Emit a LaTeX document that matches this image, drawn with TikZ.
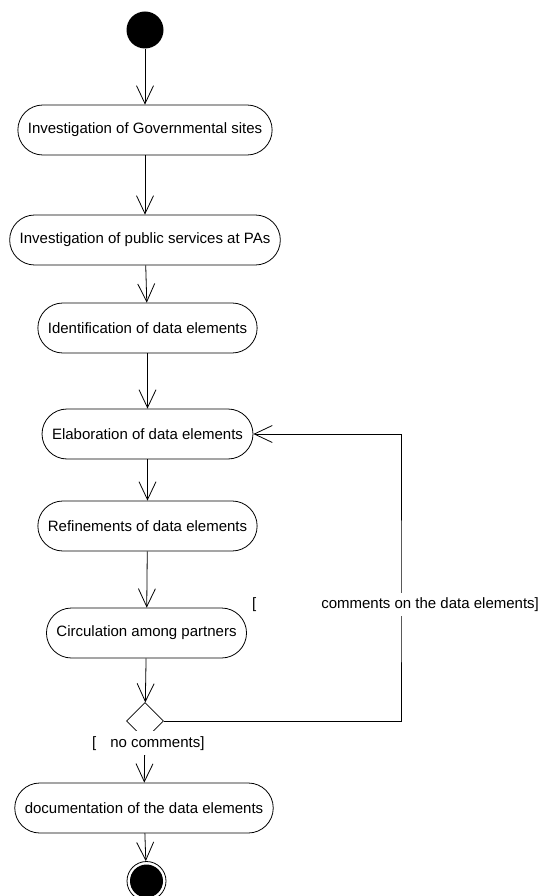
\documentclass[tikz,border=0pt]{standalone}
\usepackage{fontspec}
\setmainfont{Liberation Sans}
\usepackage{tikz}
\usetikzlibrary{shapes.geometric}
\usetikzlibrary{arrows.meta}
\tikzstyle{initial} = [circle, fill=black, minimum size=37pt, inner sep=0pt]
\tikzstyle{final} = [circle, draw=black, minimum size=39pt, inner sep=0pt, path picture={\fill[black] (path picture bounding box.center) circle (16.5pt);}]
\tikzstyle{activity} = [rectangle, rounded corners=25pt, minimum height=50pt, inner xsep=10pt, text centered, draw=black, fill=white]
\tikzstyle{decision} = [diamond, minimum width=37pt, minimum height=37pt, inner sep=0pt, draw=black, fill=white]
\tikzstyle{guard} = [fill=white, inner xsep=1pt, inner ysep=5pt]
\tikzstyle{arrow} = [->, >={Straight Barb[length=18pt,width=17pt]}]

\begin{document}
\begin{tikzpicture}[x=1pt, y=1pt, line width=0.8pt, node distance=100pt, font=\fontsize{15}{18}\selectfont]
    \useasboundingbox (0,0) rectangle (544,-896);
    \node (start) [initial] at (145,-30) {};
    \node (govsites) [activity, below of=start] {Investigation of Governmental sites};
    \node (pubserv) [activity, node distance=110pt, below of=govsites] {Investigation of public services at PAs};
    \node (ident) [activity, node distance=88pt, below of=pubserv, xshift=2.5pt] {Identification of data elements};
    \node (elab) [activity, node distance=106pt, below of=ident] {Elaboration of data elements};
    \node (refine) [activity, node distance=92pt, below of=elab] {Refinements of data elements};
    \node (circ) [activity, node distance=107pt, below of=refine, xshift=-1pt] {Circulation among partners};
    \node (check) [decision, node distance=88pt, below of=circ, xshift=-1.5pt] {};
    \node (docu) [activity, node distance=87pt, below of=check, xshift=-1pt] {documentation of the data elements};
    \node (stop) [final, node distance=73pt, below of=docu, xshift=2.5pt] {};
    \coordinate (back) at (401,-604.5);
    \draw [arrow] (start) -- (govsites);
    \draw [arrow] (govsites) -- (pubserv);
    \draw [arrow] (pubserv) -- (ident);
    \draw [arrow] (ident) -- (elab);
    \draw [arrow] (elab) -- (refine);
    \draw [arrow] (refine) -- (circ);
    \draw [arrow] (circ) -- (check);
    \draw [arrow] (check.east) -| (back) node[guard, xshift=-5.5pt] {[\hspace{65pt}comments on the data elements]} |- (elab.east);
    \draw [arrow] (check) -- node[guard, pos=0, yshift=-3.5pt, xshift=3.5pt] {[\hspace{14pt}no comments]} (docu);
    \draw [arrow] (docu) -- (stop);
\end{tikzpicture}
\end{document}
